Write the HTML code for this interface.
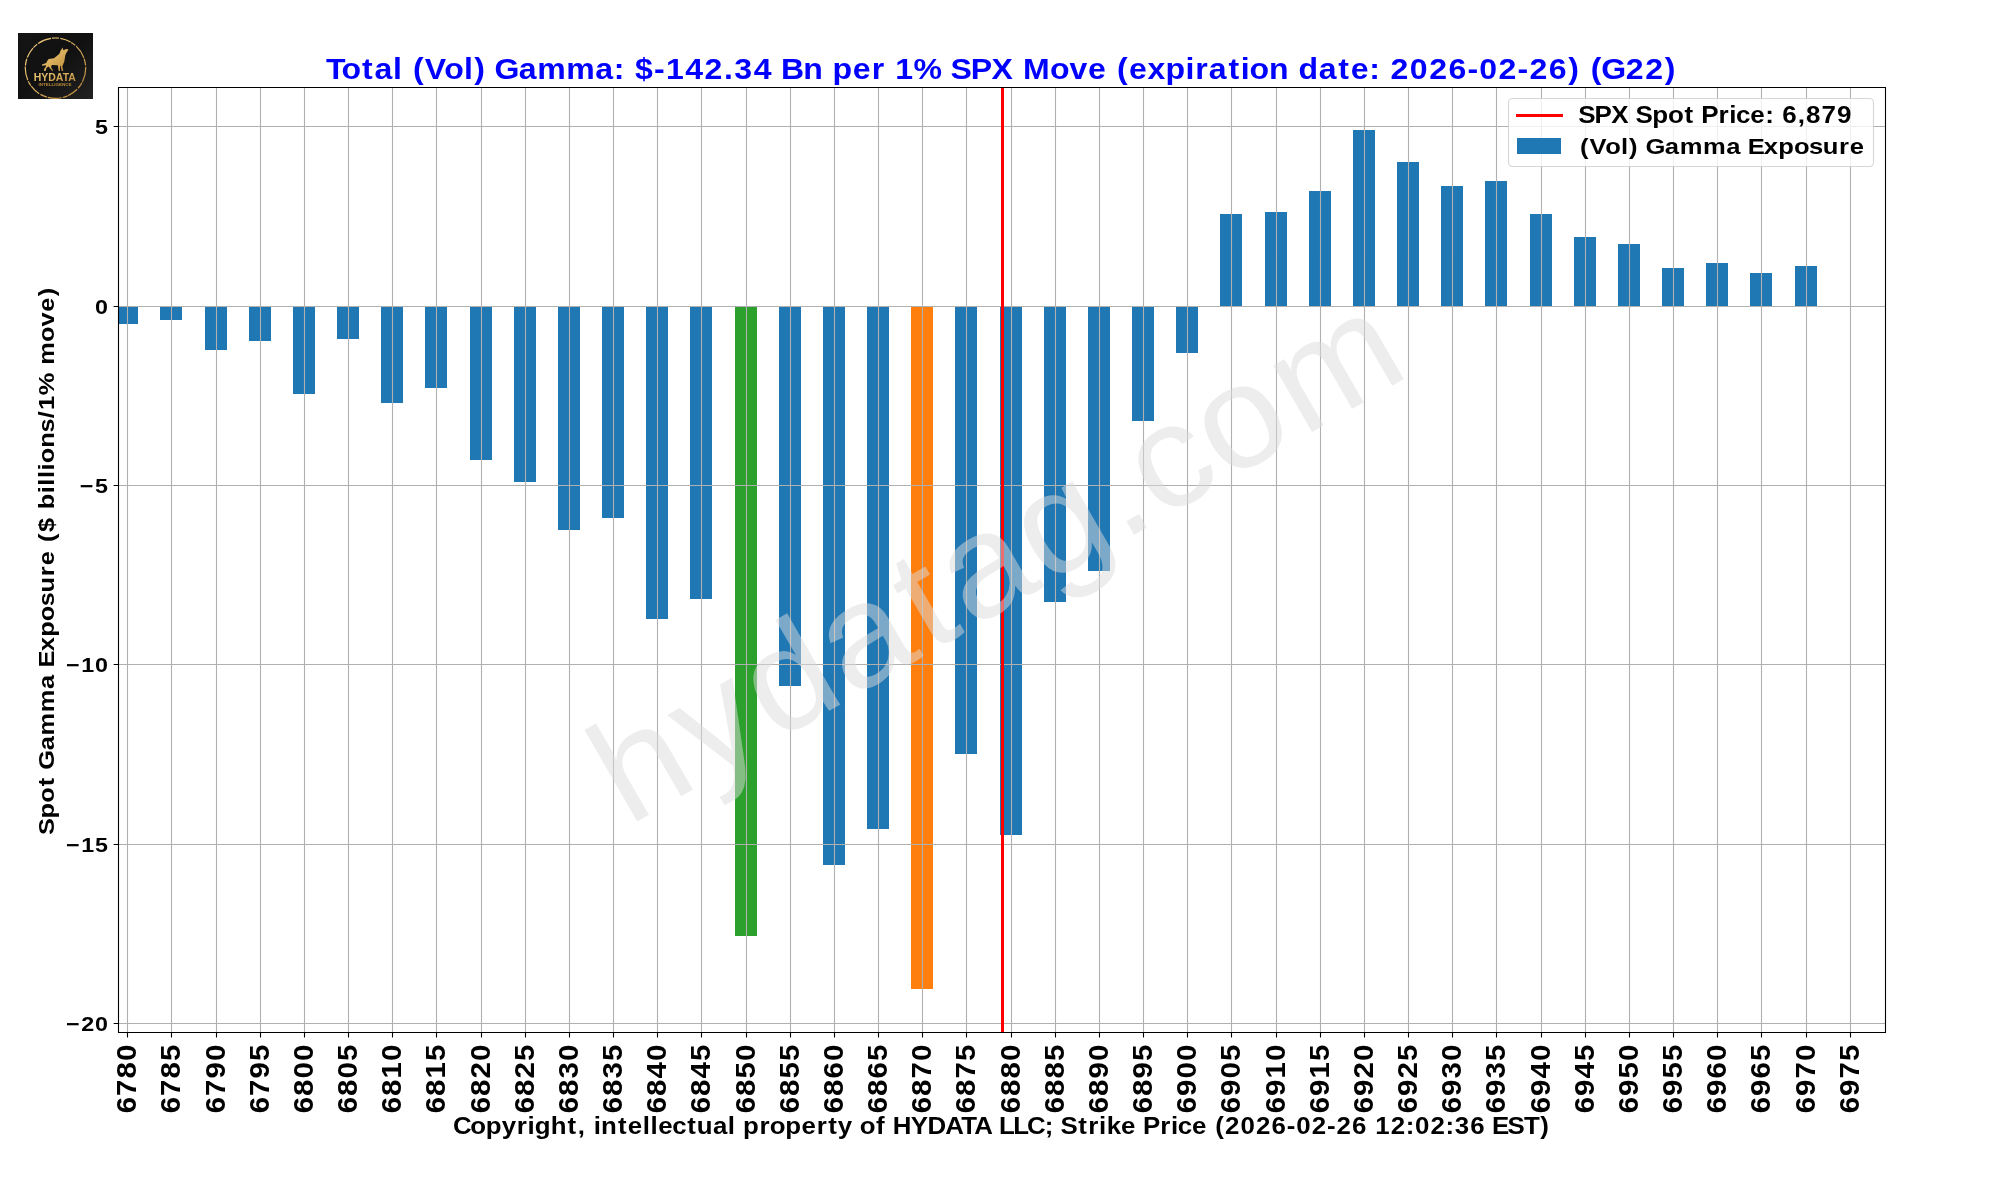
<!DOCTYPE html>
<html><head><meta charset="utf-8"><title>Total (Vol) Gamma: $-142.34 Bn per 1% SPX Move</title>
<style>html,body{margin:0;padding:0;background:#fff;width:2000px;height:1200px;overflow:hidden}svg{display:block;will-change:transform}text{font-family:"Liberation Sans",sans-serif}</style></head><body>
<svg width="2000" height="1200" viewBox="0 0 2000 1200">
<defs>
<linearGradient id="lg" x1="0" y1="0" x2="1" y2="1"><stop offset="0" stop-color="#141414"/><stop offset="0.5" stop-color="#111"/><stop offset="1" stop-color="#222"/></linearGradient>
<linearGradient id="gold" x1="0" y1="0" x2="1" y2="1"><stop offset="0" stop-color="#f2d283"/><stop offset="0.5" stop-color="#d9ad5a"/><stop offset="1" stop-color="#b88838"/></linearGradient>
<clipPath id="axclip"><rect x="118.5" y="87.5" width="1767" height="945"/></clipPath>
<clipPath id="logoclip"><rect x="18" y="33" width="75" height="66"/></clipPath>
</defs>
<rect x="0" y="0" width="2000" height="1200" fill="#fff"/>
<g>
<rect x="18" y="33" width="75" height="66" fill="url(#lg)"/>
<circle clip-path="url(#logoclip)" cx="55.5" cy="68.2" r="30.2" fill="none" stroke="url(#gold)" stroke-width="1.2" stroke-dasharray="14 0.9 7 1.4 11 0.7 5 1.2"/>
<path fill="url(#gold)" d="M62.6 47.6 L63.3 50.2 L66.2 48.9 L68.3 49.3 L68 50.6 L66.8 52 L65.3 55.2 L64.3 61.5 L62.3 66.5 L63.3 70.8 L61.8 71 L61 67.8 L60.5 65.4 L60 66 L60 71 L58.7 71 L58 66.5 L57.7 65.3 L52 65 L51.3 66 L51.3 68 L53 70 L52.5 71 L49.5 67.8 L48.7 66.5 L46.3 68 L46 70.8 L44.2 71 L44 69.3 L46.2 66 L45.5 65.3 L42.2 65.8 L42 64.5 L46.2 63 L47.2 61 L48.7 59 L54 58.2 L59.2 54 L60 52.2 L60.3 51.2 Z"/>
<text x="54.8" y="81" font-size="11.2" font-weight="bold" fill="url(#gold)" text-anchor="middle" textLength="42" lengthAdjust="spacingAndGlyphs">HYDATA</text>
<text x="55" y="86.2" font-size="4" font-weight="bold" fill="#b8893a" text-anchor="middle" textLength="33" lengthAdjust="spacingAndGlyphs">INTELLIGENCE</text>
</g>
<text transform="translate(326.405,78.500) scale(1.1000,1)" x="-0.29 13.68 32.42 43.72 60.60 69.32 78.67 89.34 107.22 125.06 134.34 145.30 152.76 174.86 191.66 217.95 244.45 261.26 271.50 280.61 297.87 308.64 326.19 343.74 361.36 370.88 388.43 405.65 413.19 433.40 451.62 460.20 478.58 495.78 508.02 517.13 533.70 559.63 567.44 585.77 604.74 624.52 633.38 657.83 675.52 692.29 709.29 718.65 729.72 746.41 762.78 780.98 789.90 802.20 819.99 831.15 839.29 856.93 875.15 883.73 902.06 919.85 931.19 948.04 958.28 967.39 984.94 1002.50 1020.05 1037.31 1048.07 1065.63 1082.89 1093.65 1111.20 1129.00 1139.96 1149.31 1158.95 1181.31 1198.86 1216.65" y="0" font-size="29.125" font-family="Liberation Sans" font-weight="bold" fill="#0000ff">Total (Vol) Gamma: $-142.34 Bn per 1% SPX Move (expiration date: 2026-02-26) (G22)</text>
<g clip-path="url(#axclip)">
<rect x="116" y="306.5" width="22" height="17.5" fill="#1f77b4"/>
<rect x="160" y="306.5" width="22" height="13.5" fill="#1f77b4"/>
<rect x="205" y="306.5" width="22" height="43.5" fill="#1f77b4"/>
<rect x="249" y="306.5" width="22" height="34.5" fill="#1f77b4"/>
<rect x="293" y="306.5" width="22" height="87.5" fill="#1f77b4"/>
<rect x="337" y="306.5" width="22" height="32.5" fill="#1f77b4"/>
<rect x="381" y="306.5" width="22" height="96.5" fill="#1f77b4"/>
<rect x="425" y="306.5" width="22" height="81.5" fill="#1f77b4"/>
<rect x="470" y="306.5" width="22" height="153.5" fill="#1f77b4"/>
<rect x="514" y="306.5" width="22" height="175.5" fill="#1f77b4"/>
<rect x="558" y="306.5" width="22" height="223.5" fill="#1f77b4"/>
<rect x="602" y="306.5" width="22" height="211.5" fill="#1f77b4"/>
<rect x="646" y="306.5" width="22" height="312.5" fill="#1f77b4"/>
<rect x="690" y="306.5" width="22" height="292.5" fill="#1f77b4"/>
<rect x="735" y="306.5" width="22" height="629.5" fill="#2ca02c"/>
<rect x="779" y="306.5" width="22" height="379.5" fill="#1f77b4"/>
<rect x="823" y="306.5" width="22" height="558.5" fill="#1f77b4"/>
<rect x="867" y="306.5" width="22" height="522.5" fill="#1f77b4"/>
<rect x="911" y="306.5" width="22" height="682.5" fill="#ff7f0e"/>
<rect x="955" y="306.5" width="22" height="447.5" fill="#1f77b4"/>
<rect x="1000" y="306.5" width="22" height="528.5" fill="#1f77b4"/>
<rect x="1044" y="306.5" width="22" height="295.5" fill="#1f77b4"/>
<rect x="1088" y="306.5" width="22" height="264.5" fill="#1f77b4"/>
<rect x="1132" y="306.5" width="22" height="114.5" fill="#1f77b4"/>
<rect x="1176" y="306.5" width="22" height="46.5" fill="#1f77b4"/>
<rect x="1220" y="214" width="22" height="92.5" fill="#1f77b4"/>
<rect x="1265" y="212" width="22" height="94.5" fill="#1f77b4"/>
<rect x="1309" y="191" width="22" height="115.5" fill="#1f77b4"/>
<rect x="1353" y="130" width="22" height="176.5" fill="#1f77b4"/>
<rect x="1397" y="162" width="22" height="144.5" fill="#1f77b4"/>
<rect x="1441" y="186" width="22" height="120.5" fill="#1f77b4"/>
<rect x="1485" y="181" width="22" height="125.5" fill="#1f77b4"/>
<rect x="1530" y="214" width="22" height="92.5" fill="#1f77b4"/>
<rect x="1574" y="237" width="22" height="69.5" fill="#1f77b4"/>
<rect x="1618" y="244" width="22" height="62.5" fill="#1f77b4"/>
<rect x="1662" y="268" width="22" height="38.5" fill="#1f77b4"/>
<rect x="1706" y="263" width="22" height="43.5" fill="#1f77b4"/>
<rect x="1750" y="273" width="22" height="33.5" fill="#1f77b4"/>
<rect x="1795" y="266" width="22" height="40.5" fill="#1f77b4"/>
<path d="M127.5 87.5V1032 M171.5 87.5V1032 M216.5 87.5V1032 M260.5 87.5V1032 M304.5 87.5V1032 M348.5 87.5V1032 M392.5 87.5V1032 M436.5 87.5V1032 M481.5 87.5V1032 M525.5 87.5V1032 M569.5 87.5V1032 M613.5 87.5V1032 M657.5 87.5V1032 M701.5 87.5V1032 M746.5 87.5V1032 M790.5 87.5V1032 M834.5 87.5V1032 M878.5 87.5V1032 M922.5 87.5V1032 M966.5 87.5V1032 M1011.5 87.5V1032 M1055.5 87.5V1032 M1099.5 87.5V1032 M1143.5 87.5V1032 M1187.5 87.5V1032 M1231.5 87.5V1032 M1276.5 87.5V1032 M1320.5 87.5V1032 M1364.5 87.5V1032 M1408.5 87.5V1032 M1452.5 87.5V1032 M1496.5 87.5V1032 M1541.5 87.5V1032 M1585.5 87.5V1032 M1629.5 87.5V1032 M1673.5 87.5V1032 M1717.5 87.5V1032 M1761.5 87.5V1032 M1806.5 87.5V1032 M1850.5 87.5V1032 M118.5 126.5H1885 M118.5 306.5H1885 M118.5 485.5H1885 M118.5 664.5H1885 M118.5 844.5H1885 M118.5 1023.5H1885" stroke="#b0b0b0" stroke-width="1.1" fill="none"/>
<rect x="1001" y="87" width="3" height="946" fill="#ff0000"/>
<text transform="translate(1021.5,599.75) rotate(-30) translate(-455.955,0.000) scale(1.0400,1)" x="1.79 87.71 165.51 248.80 336.18 382.99 466.29 550.17 591.91 665.38 751.09" y="0" font-size="145.750" fill="#dcdcdc" fill-opacity="0.5">hydatag.com</text>
</g>
<rect x="1508.5" y="98.5" width="365" height="68" rx="4" ry="4" fill="#fff" fill-opacity="0.8" stroke="#cccccc" stroke-opacity="0.8" stroke-width="1.1"/>
<rect x="1516" y="114" width="47" height="3" fill="#ff0000"/>
<rect x="1517" y="138" width="44" height="16" fill="#1f77b4"/>
<text transform="translate(1579.000,122.500) scale(1.1300,1)" x="-0.58 13.73 28.53 44.03 50.07 64.85 78.66 93.33 102.10 108.26 123.53 133.04 139.05 151.56 164.74 172.74 179.82 193.61 201.00 214.70 228.40" y="0" font-size="23.000" font-family="Liberation Sans" font-weight="bold" fill="#000">SPX Spot Price: 6,879</text>
<text transform="translate(1579.250,153.500) scale(1.1500,1)" x="0.72 8.91 22.58 36.25 43.37 51.77 57.52 74.45 87.36 107.52 127.83 140.82 146.47 160.55 173.11 186.68 199.69 211.73 225.85 235.32" y="0" font-size="22.250" font-family="Liberation Sans" font-weight="bold" fill="#000">(Vol) Gamma Exposure</text>
<path d="M118.5 87.5H1885.5V1032.5H118.5Z M127.5 1032.5V1037.4 M171.5 1032.5V1037.4 M216.5 1032.5V1037.4 M260.5 1032.5V1037.4 M304.5 1032.5V1037.4 M348.5 1032.5V1037.4 M392.5 1032.5V1037.4 M436.5 1032.5V1037.4 M481.5 1032.5V1037.4 M525.5 1032.5V1037.4 M569.5 1032.5V1037.4 M613.5 1032.5V1037.4 M657.5 1032.5V1037.4 M701.5 1032.5V1037.4 M746.5 1032.5V1037.4 M790.5 1032.5V1037.4 M834.5 1032.5V1037.4 M878.5 1032.5V1037.4 M922.5 1032.5V1037.4 M966.5 1032.5V1037.4 M1011.5 1032.5V1037.4 M1055.5 1032.5V1037.4 M1099.5 1032.5V1037.4 M1143.5 1032.5V1037.4 M1187.5 1032.5V1037.4 M1231.5 1032.5V1037.4 M1276.5 1032.5V1037.4 M1320.5 1032.5V1037.4 M1364.5 1032.5V1037.4 M1408.5 1032.5V1037.4 M1452.5 1032.5V1037.4 M1496.5 1032.5V1037.4 M1541.5 1032.5V1037.4 M1585.5 1032.5V1037.4 M1629.5 1032.5V1037.4 M1673.5 1032.5V1037.4 M1717.5 1032.5V1037.4 M1761.5 1032.5V1037.4 M1806.5 1032.5V1037.4 M1850.5 1032.5V1037.4 M113.6 126.5H118.5 M113.6 306.5H118.5 M113.6 485.5H118.5 M113.6 664.5H118.5 M113.6 844.5H118.5 M113.6 1023.5H118.5" stroke="#000" stroke-width="1.1" fill="none"/>
<text transform="translate(94.632,133.500) scale(1.1350,1)" x="0.28" y="0" font-size="20.500" font-family="Liberation Sans" font-weight="bold" fill="#000">5</text>
<text transform="translate(94.632,313.500) scale(1.1350,1)" x="0.28" y="0" font-size="20.500" font-family="Liberation Sans" font-weight="bold" fill="#000">0</text>
<text transform="translate(78.293,492.500) scale(1.1350,1)" x="1.21 14.67" y="0" font-size="20.500" font-family="Liberation Sans" font-weight="bold" fill="#000">−5</text>
<text transform="translate(64.725,671.500) scale(1.1350,1)" x="1.21 14.67 26.63" y="0" font-size="20.500" font-family="Liberation Sans" font-weight="bold" fill="#000">−10</text>
<text transform="translate(64.725,851.500) scale(1.1350,1)" x="1.21 14.67 26.63" y="0" font-size="20.500" font-family="Liberation Sans" font-weight="bold" fill="#000">−15</text>
<text transform="translate(64.725,1030.500) scale(1.1350,1)" x="1.21 14.67 26.63" y="0" font-size="20.500" font-family="Liberation Sans" font-weight="bold" fill="#000">−20</text>
<text transform="translate(136.100,1113.750) rotate(-90) translate(0.000,0) scale(1.1000,1)" x="0.43 16.25 32.06 47.87" y="0" font-size="26.850" font-family="Liberation Sans" font-weight="bold" fill="#000">6780</text>
<text transform="translate(180.100,1113.750) rotate(-90) translate(0.000,0) scale(1.1000,1)" x="0.43 16.25 32.06 47.87" y="0" font-size="26.850" font-family="Liberation Sans" font-weight="bold" fill="#000">6785</text>
<text transform="translate(225.100,1113.750) rotate(-90) translate(0.000,0) scale(1.1000,1)" x="0.43 16.25 32.06 47.87" y="0" font-size="26.850" font-family="Liberation Sans" font-weight="bold" fill="#000">6790</text>
<text transform="translate(269.100,1113.750) rotate(-90) translate(0.000,0) scale(1.1000,1)" x="0.43 16.25 32.06 47.87" y="0" font-size="26.850" font-family="Liberation Sans" font-weight="bold" fill="#000">6795</text>
<text transform="translate(313.100,1113.750) rotate(-90) translate(0.000,0) scale(1.1000,1)" x="0.43 16.25 32.06 47.87" y="0" font-size="26.850" font-family="Liberation Sans" font-weight="bold" fill="#000">6800</text>
<text transform="translate(357.100,1113.750) rotate(-90) translate(0.000,0) scale(1.1000,1)" x="0.43 16.25 32.06 47.87" y="0" font-size="26.850" font-family="Liberation Sans" font-weight="bold" fill="#000">6805</text>
<text transform="translate(401.100,1113.750) rotate(-90) translate(0.000,0) scale(1.1000,1)" x="0.43 16.25 32.06 47.87" y="0" font-size="26.850" font-family="Liberation Sans" font-weight="bold" fill="#000">6810</text>
<text transform="translate(445.100,1113.750) rotate(-90) translate(0.000,0) scale(1.1000,1)" x="0.43 16.25 32.06 47.87" y="0" font-size="26.850" font-family="Liberation Sans" font-weight="bold" fill="#000">6815</text>
<text transform="translate(490.100,1113.750) rotate(-90) translate(0.000,0) scale(1.1000,1)" x="0.43 16.25 32.06 47.87" y="0" font-size="26.850" font-family="Liberation Sans" font-weight="bold" fill="#000">6820</text>
<text transform="translate(534.100,1113.750) rotate(-90) translate(0.000,0) scale(1.1000,1)" x="0.43 16.25 32.06 47.87" y="0" font-size="26.850" font-family="Liberation Sans" font-weight="bold" fill="#000">6825</text>
<text transform="translate(578.100,1113.750) rotate(-90) translate(0.000,0) scale(1.1000,1)" x="0.43 16.25 32.06 47.87" y="0" font-size="26.850" font-family="Liberation Sans" font-weight="bold" fill="#000">6830</text>
<text transform="translate(622.100,1113.750) rotate(-90) translate(0.000,0) scale(1.1000,1)" x="0.43 16.25 32.06 47.87" y="0" font-size="26.850" font-family="Liberation Sans" font-weight="bold" fill="#000">6835</text>
<text transform="translate(666.100,1113.750) rotate(-90) translate(0.000,0) scale(1.1000,1)" x="0.43 16.25 32.06 47.87" y="0" font-size="26.850" font-family="Liberation Sans" font-weight="bold" fill="#000">6840</text>
<text transform="translate(710.100,1113.750) rotate(-90) translate(0.000,0) scale(1.1000,1)" x="0.43 16.25 32.06 47.87" y="0" font-size="26.850" font-family="Liberation Sans" font-weight="bold" fill="#000">6845</text>
<text transform="translate(755.100,1113.750) rotate(-90) translate(0.000,0) scale(1.1000,1)" x="0.43 16.25 32.06 47.87" y="0" font-size="26.850" font-family="Liberation Sans" font-weight="bold" fill="#000">6850</text>
<text transform="translate(799.100,1113.750) rotate(-90) translate(0.000,0) scale(1.1000,1)" x="0.43 16.25 32.06 47.87" y="0" font-size="26.850" font-family="Liberation Sans" font-weight="bold" fill="#000">6855</text>
<text transform="translate(843.100,1113.750) rotate(-90) translate(0.000,0) scale(1.1000,1)" x="0.43 16.25 32.06 47.87" y="0" font-size="26.850" font-family="Liberation Sans" font-weight="bold" fill="#000">6860</text>
<text transform="translate(887.100,1113.750) rotate(-90) translate(0.000,0) scale(1.1000,1)" x="0.43 16.25 32.06 47.87" y="0" font-size="26.850" font-family="Liberation Sans" font-weight="bold" fill="#000">6865</text>
<text transform="translate(931.100,1113.750) rotate(-90) translate(0.000,0) scale(1.1000,1)" x="0.43 16.25 32.06 47.87" y="0" font-size="26.850" font-family="Liberation Sans" font-weight="bold" fill="#000">6870</text>
<text transform="translate(975.100,1113.750) rotate(-90) translate(0.000,0) scale(1.1000,1)" x="0.43 16.25 32.06 47.87" y="0" font-size="26.850" font-family="Liberation Sans" font-weight="bold" fill="#000">6875</text>
<text transform="translate(1020.100,1113.750) rotate(-90) translate(0.000,0) scale(1.1000,1)" x="0.43 16.25 32.06 47.87" y="0" font-size="26.850" font-family="Liberation Sans" font-weight="bold" fill="#000">6880</text>
<text transform="translate(1064.100,1113.750) rotate(-90) translate(0.000,0) scale(1.1000,1)" x="0.43 16.25 32.06 47.87" y="0" font-size="26.850" font-family="Liberation Sans" font-weight="bold" fill="#000">6885</text>
<text transform="translate(1108.100,1113.750) rotate(-90) translate(0.000,0) scale(1.1000,1)" x="0.43 16.25 32.06 47.87" y="0" font-size="26.850" font-family="Liberation Sans" font-weight="bold" fill="#000">6890</text>
<text transform="translate(1152.100,1113.750) rotate(-90) translate(0.000,0) scale(1.1000,1)" x="0.43 16.25 32.06 47.87" y="0" font-size="26.850" font-family="Liberation Sans" font-weight="bold" fill="#000">6895</text>
<text transform="translate(1196.100,1113.750) rotate(-90) translate(0.000,0) scale(1.1000,1)" x="0.43 16.25 32.06 47.87" y="0" font-size="26.850" font-family="Liberation Sans" font-weight="bold" fill="#000">6900</text>
<text transform="translate(1240.100,1113.750) rotate(-90) translate(0.000,0) scale(1.1000,1)" x="0.43 16.25 32.06 47.87" y="0" font-size="26.850" font-family="Liberation Sans" font-weight="bold" fill="#000">6905</text>
<text transform="translate(1285.100,1113.750) rotate(-90) translate(0.000,0) scale(1.1000,1)" x="0.43 16.25 32.06 47.87" y="0" font-size="26.850" font-family="Liberation Sans" font-weight="bold" fill="#000">6910</text>
<text transform="translate(1329.100,1113.750) rotate(-90) translate(0.000,0) scale(1.1000,1)" x="0.43 16.25 32.06 47.87" y="0" font-size="26.850" font-family="Liberation Sans" font-weight="bold" fill="#000">6915</text>
<text transform="translate(1373.100,1113.750) rotate(-90) translate(0.000,0) scale(1.1000,1)" x="0.43 16.25 32.06 47.87" y="0" font-size="26.850" font-family="Liberation Sans" font-weight="bold" fill="#000">6920</text>
<text transform="translate(1417.100,1113.750) rotate(-90) translate(0.000,0) scale(1.1000,1)" x="0.43 16.25 32.06 47.87" y="0" font-size="26.850" font-family="Liberation Sans" font-weight="bold" fill="#000">6925</text>
<text transform="translate(1461.100,1113.750) rotate(-90) translate(0.000,0) scale(1.1000,1)" x="0.43 16.25 32.06 47.87" y="0" font-size="26.850" font-family="Liberation Sans" font-weight="bold" fill="#000">6930</text>
<text transform="translate(1505.100,1113.750) rotate(-90) translate(0.000,0) scale(1.1000,1)" x="0.43 16.25 32.06 47.87" y="0" font-size="26.850" font-family="Liberation Sans" font-weight="bold" fill="#000">6935</text>
<text transform="translate(1550.100,1113.750) rotate(-90) translate(0.000,0) scale(1.1000,1)" x="0.43 16.25 32.06 47.87" y="0" font-size="26.850" font-family="Liberation Sans" font-weight="bold" fill="#000">6940</text>
<text transform="translate(1594.100,1113.750) rotate(-90) translate(0.000,0) scale(1.1000,1)" x="0.43 16.25 32.06 47.87" y="0" font-size="26.850" font-family="Liberation Sans" font-weight="bold" fill="#000">6945</text>
<text transform="translate(1638.100,1113.750) rotate(-90) translate(0.000,0) scale(1.1000,1)" x="0.43 16.25 32.06 47.87" y="0" font-size="26.850" font-family="Liberation Sans" font-weight="bold" fill="#000">6950</text>
<text transform="translate(1682.100,1113.750) rotate(-90) translate(0.000,0) scale(1.1000,1)" x="0.43 16.25 32.06 47.87" y="0" font-size="26.850" font-family="Liberation Sans" font-weight="bold" fill="#000">6955</text>
<text transform="translate(1726.100,1113.750) rotate(-90) translate(0.000,0) scale(1.1000,1)" x="0.43 16.25 32.06 47.87" y="0" font-size="26.850" font-family="Liberation Sans" font-weight="bold" fill="#000">6960</text>
<text transform="translate(1770.100,1113.750) rotate(-90) translate(0.000,0) scale(1.1000,1)" x="0.43 16.25 32.06 47.87" y="0" font-size="26.850" font-family="Liberation Sans" font-weight="bold" fill="#000">6965</text>
<text transform="translate(1815.100,1113.750) rotate(-90) translate(0.000,0) scale(1.1000,1)" x="0.43 16.25 32.06 47.87" y="0" font-size="26.850" font-family="Liberation Sans" font-weight="bold" fill="#000">6970</text>
<text transform="translate(1859.100,1113.750) rotate(-90) translate(0.000,0) scale(1.1000,1)" x="0.43 16.25 32.06 47.87" y="0" font-size="26.850" font-family="Liberation Sans" font-weight="bold" fill="#000">6975</text>
<text transform="translate(454.177,1133.500) scale(1.1250,1)" x="-1.05 14.28 28.16 42.31 55.55 65.10 71.74 85.86 100.82 109.94 117.14 123.97 130.57 145.53 154.40 167.70 174.48 181.37 193.94 207.10 215.67 230.01 243.27 250.11 256.80 271.30 280.42 294.30 308.71 322.22 332.47 341.07 354.16 360.57 374.86 383.24 389.85 405.92 420.65 436.52 450.64 462.20 478.41 484.32 496.93 509.20 524.89 532.92 539.01 554.70 563.66 573.21 579.97 592.70 606.05 612.27 627.59 637.13 643.18 655.75 669.10 676.43 685.26 699.03 712.79 726.55 740.10 748.52 762.28 775.83 784.25 798.01 811.54 818.66 832.42 845.82 854.09 867.85 881.25 889.52 903.28 916.81 922.53 936.41 950.92 965.38" y="0" font-size="23.000" font-family="Liberation Sans" font-weight="bold" fill="#000">Copyright, intellectual property of HYDATA LLC; Strike Price (2026-02-26 12:02:36 EST)</text>
<text transform="translate(54.300,560.750) rotate(-90) translate(-273.883,0) scale(1.1400,1)" x="-0.39 14.25 27.94 42.40 51.07 56.92 73.98 87.03 107.37 127.82 140.90 146.64 160.83 173.50 187.19 200.31 212.46 226.69 236.26 249.37 256.62 265.39 278.67 285.35 299.38 306.07 312.76 319.45 325.80 339.45 352.81 365.28 372.54 385.41 405.38 412.15 432.12 445.79 458.77 472.33" y="0" font-size="22.250" font-family="Liberation Sans" font-weight="bold" fill="#000">Spot Gamma Exposure ($ billions/1% move)</text>
</svg></body></html>
